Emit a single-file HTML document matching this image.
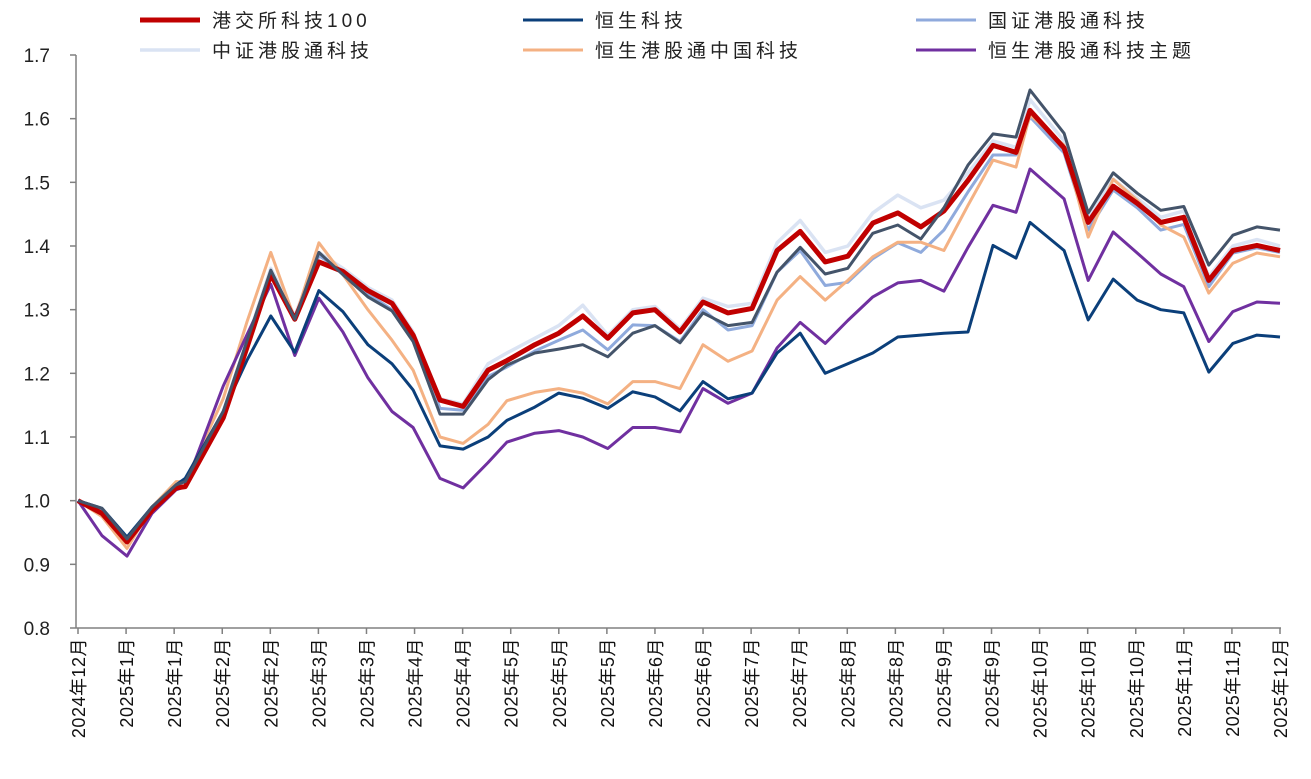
<!DOCTYPE html>
<html><head><meta charset="utf-8"><style>
body{margin:0;background:#fff;width:1311px;height:774px;overflow:hidden}
svg{font-family:"Liberation Sans","Noto Sans CJK SC",sans-serif}
</style></head><body>
<svg id="chart" width="1311" height="774" viewBox="0 0 1311 774"></svg>
<script>
const xLabels=["2024年12月","2025年1月","2025年1月","2025年2月","2025年2月","2025年3月","2025年3月","2025年4月","2025年4月","2025年5月","2025年5月","2025年5月","2025年6月","2025年6月","2025年7月","2025年7月","2025年8月","2025年8月","2025年9月","2025年9月","2025年10月","2025年10月","2025年10月","2025年11月","2025年11月","2025年12月"];
const yTicks=[0.8,0.9,1.0,1.1,1.2,1.3,1.4,1.5,1.6,1.7];
const t=[0,0.5,1.02,1.54,2.04,2.23,3.02,3.51,4.01,4.51,5.01,5.51,6.03,6.53,6.97,7.53,8.01,8.53,8.92,9.5,10,10.5,11.02,11.54,12,12.52,13,13.52,14.02,14.54,15.02,15.54,16.01,16.53,17.05,17.53,18.01,18.51,19.03,19.51,19.8,20.51,21.01,21.53,22.03,22.52,23,23.52,24.02,24.52,25];
const zzgg=[1.0,0.985,0.94,0.99,1.025,1.03,1.14,1.25,1.365,1.29,1.39,1.365,1.335,1.315,1.265,1.16,1.152,1.215,1.232,1.255,1.275,1.307,1.26,1.3,1.305,1.27,1.318,1.305,1.31,1.405,1.44,1.39,1.4,1.452,1.48,1.46,1.472,1.515,1.565,1.555,1.63,1.565,1.445,1.505,1.475,1.445,1.455,1.352,1.4,1.41,1.4];
const gzgg=[1.0,0.985,0.94,0.99,1.025,1.03,1.14,1.25,1.36,1.285,1.385,1.36,1.325,1.3,1.255,1.145,1.142,1.195,1.21,1.235,1.252,1.268,1.237,1.276,1.275,1.25,1.3,1.268,1.275,1.359,1.393,1.338,1.343,1.38,1.405,1.39,1.425,1.485,1.543,1.543,1.603,1.546,1.425,1.488,1.46,1.425,1.434,1.336,1.389,1.397,1.39];
const hsggzg=[1.0,0.975,0.925,0.99,1.03,1.03,1.16,1.28,1.39,1.285,1.405,1.355,1.3,1.252,1.205,1.1,1.09,1.12,1.157,1.17,1.176,1.169,1.152,1.187,1.187,1.176,1.245,1.219,1.235,1.315,1.352,1.315,1.346,1.383,1.406,1.406,1.393,1.464,1.535,1.524,1.606,1.558,1.414,1.505,1.472,1.433,1.414,1.326,1.373,1.389,1.383];
const hsggzt=[1.0,0.945,0.913,0.98,1.017,1.022,1.18,1.26,1.34,1.228,1.318,1.265,1.193,1.14,1.115,1.035,1.02,1.06,1.092,1.106,1.11,1.1,1.082,1.115,1.115,1.108,1.176,1.153,1.169,1.24,1.28,1.247,1.283,1.32,1.342,1.346,1.329,1.398,1.464,1.453,1.521,1.474,1.346,1.422,1.389,1.356,1.336,1.25,1.297,1.312,1.31];
const hskj=[1.0,0.988,0.943,0.99,1.025,1.035,1.14,1.22,1.29,1.233,1.33,1.297,1.245,1.215,1.174,1.086,1.081,1.1,1.126,1.147,1.169,1.161,1.145,1.171,1.163,1.141,1.187,1.16,1.169,1.232,1.263,1.2,1.215,1.232,1.257,1.26,1.263,1.265,1.401,1.381,1.437,1.393,1.284,1.348,1.315,1.3,1.295,1.202,1.247,1.26,1.257];
const hkex100=[1.0,0.98,0.935,0.985,1.02,1.022,1.13,1.24,1.355,1.285,1.375,1.36,1.33,1.31,1.26,1.158,1.148,1.205,1.22,1.245,1.263,1.29,1.255,1.295,1.3,1.265,1.312,1.295,1.302,1.393,1.423,1.375,1.384,1.436,1.452,1.43,1.455,1.503,1.558,1.547,1.613,1.554,1.437,1.494,1.467,1.437,1.445,1.346,1.393,1.401,1.393];
const slate=[1.0,0.988,0.94,0.99,1.025,1.03,1.14,1.25,1.362,1.285,1.39,1.355,1.32,1.298,1.25,1.136,1.136,1.19,1.213,1.232,1.238,1.245,1.226,1.263,1.275,1.248,1.295,1.275,1.28,1.359,1.398,1.356,1.365,1.42,1.433,1.411,1.46,1.527,1.576,1.571,1.645,1.577,1.452,1.515,1.483,1.456,1.462,1.37,1.417,1.43,1.425];

const NS="http://www.w3.org/2000/svg";
const svg=document.getElementById('chart');
const X0=78,XS=48.08,Y0=628,YT=55,VMIN=0.8,VMAX=1.7;
function xs(v){return X0+v*XS;}
function ys(v){return Y0-(v-VMIN)/(VMAX-VMIN)*(Y0-YT);}
function mk(tag,attrs){const e=document.createElementNS(NS,tag);for(const k in attrs)e.setAttribute(k,attrs[k]);svg.appendChild(e);return e;}

const yAxis=mk('line',{x1:76,y1:YT,x2:76,y2:Y0,stroke:'#808080','stroke-width':1.5});


const xAxis=mk('line',{x1:76,y1:Y0,x2:1281,y2:Y0,stroke:'#808080','stroke-width':1.5});



yTicks.forEach(v=>{
  const tk=mk('line',{x1:70,y1:ys(v),x2:76,y2:ys(v),stroke:'#808080','stroke-width':1.5});
  
  
  const tx=mk('text',{x:50,y:ys(v)+7,'text-anchor':'end','font-size':19,fill:'#222'});
  tx.textContent=v.toFixed(1);
  
  
});
xLabels.forEach((lab,i)=>{
  const x=xs(i);
  const tk=mk('line',{x1:x,y1:Y0,x2:x,y2:Y0+6,stroke:'#808080','stroke-width':1.5});
  
  
  const tx=mk('text',{x:0,y:0,'text-anchor':'end','font-size':18,fill:'#111','letter-spacing':0.5,transform:`translate(${x+7},${Y0+10}) rotate(-90)`});
  tx.textContent=lab;
  
  
});

const series=[
 {d:zzgg,c:'#DAE3F3',w:3.5,n:'series-csi-connect-tech'},
 {d:gzgg,c:'#8FAADC',w:3,n:'series-cni-connect-tech'},
 {d:hsggzg,c:'#F4B183',w:3,n:'series-hs-connect-china-tech'},
 {d:hsggzt,c:'#7030A0',w:3,n:'series-hs-connect-tech-theme'},
 {d:hskj,c:'#0B3F7A',w:3,n:'series-hang-seng-tech'},
 {d:hkex100,c:'#C00000',w:5,n:'series-hkex-tech-100'},
 {d:slate,c:'#44546A',w:3,n:'series-composite'}
];
series.forEach(s=>{
  const p=s.d.map((v,i)=>xs(t[i]).toFixed(1)+','+ys(v).toFixed(1)).join(' ');
  const pl=mk('polyline',{points:p,fill:'none',stroke:s.c,'stroke-width':s.w,'stroke-linejoin':'round'});
  
  
});

const legend=[
 ['港交所科技100','#C00000',5,140,20],['恒生科技','#0B3F7A',3,523,20],['国证港股通科技','#8FAADC',3,916,20],
 ['中证港股通科技','#DAE3F3',3.5,140,50],['恒生港股通中国科技','#F4B183',3,523,50],['恒生港股通科技主题','#7030A0',3,916,50]
];
legend.forEach(l=>{
  const ln=mk('line',{x1:l[3],y1:l[4],x2:l[3]+60,y2:l[4],stroke:l[1],'stroke-width':l[2]});
  
  
  const tx=mk('text',{x:l[3]+72,y:l[4]+7,'font-size':19,fill:'#222','letter-spacing':4});
  tx.textContent=l[0];
  
  
});
</script>
</body></html>
